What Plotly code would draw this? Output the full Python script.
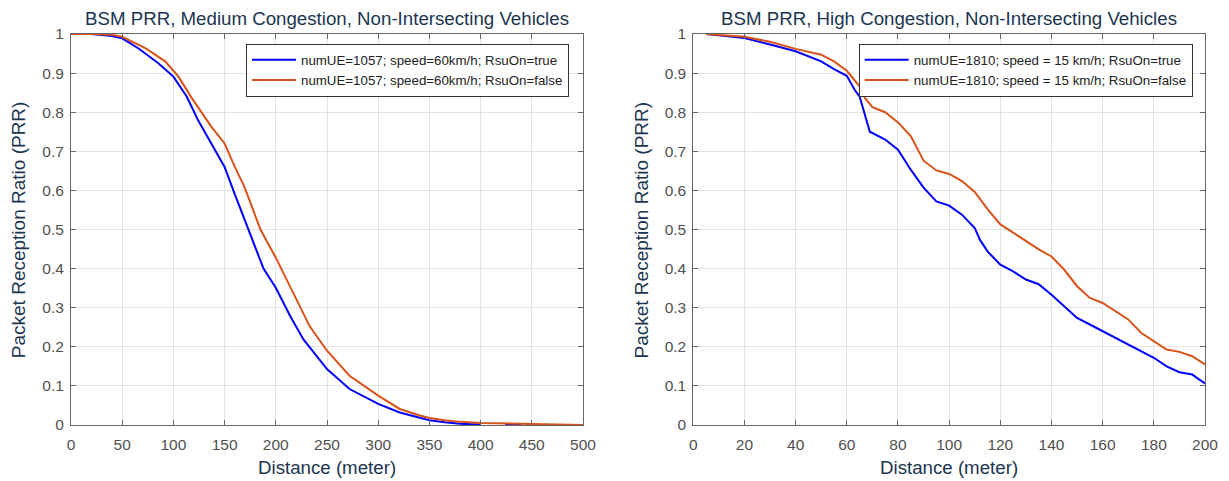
import plotly.graph_objects as go

# ---- Left panel: medium congestion ----
med_x_true = [0, 20, 40, 50, 66, 85, 100, 113, 124, 137, 150, 160, 173, 188, 200, 214, 227, 250, 272, 300,
              321, 340, 350, 365, 380, 400, None, 424, 440]
med_y_true = [1.0, 1.0, 0.995, 0.989, 0.963, 0.926, 0.891, 0.84, 0.78, 0.72, 0.66, 0.59, 0.5, 0.4, 0.351, 0.279, 0.219, 0.143, 0.092, 0.054,
              0.032, 0.018, 0.012, 0.007, 0.003, 0.001, None, 0.0, 0.0]

med_x_false = [0, 20, 40, 50, 73, 92, 105, 118, 137, 150, 160, 169, 174, 185, 200, 217, 233, 250, 272, 300,
               321, 340, 350, 365, 380, 400, 440, 460, 500]
med_y_false = [1.0, 1.0, 0.998, 0.993, 0.963, 0.93, 0.891, 0.836, 0.763, 0.72, 0.66, 0.611, 0.577, 0.5, 0.428, 0.338, 0.253, 0.19, 0.126, 0.075,
               0.041, 0.025, 0.018, 0.012, 0.008, 0.005, 0.003, 0.001, 0.0]

# ---- Right panel: high congestion ----
high_x_true = [5, 10, 20, 30, 40, 50, 55, 60, 63, 65, 67, 69, 75, 80, 85, 90, 95, 100, 105, 110, 112, 115,
               120, 125, 130, 135, 140, 145, 150, 155, 160, 165, 170, 175, 180, 185, 190, 195, 200]
high_y_true = [1.0, 0.997, 0.99, 0.973, 0.956, 0.93, 0.91, 0.893, 0.858, 0.84, 0.798, 0.75, 0.73, 0.704, 0.653, 0.607, 0.572, 0.561, 0.538, 0.504, 0.474, 0.444,
               0.41, 0.393, 0.372, 0.36, 0.333, 0.303, 0.274, 0.257, 0.24, 0.225, 0.206, 0.19, 0.172, 0.15, 0.135, 0.129, 0.106]

high_x_false = [5, 10, 20, 30, 40, 50, 55, 60, 65, 67, 70, 75, 80, 85, 90, 95, 100, 105, 110, 115, 120, 125,
                130, 135, 140, 145, 150, 155, 160, 165, 170, 175, 180, 185, 190, 195, 200]
high_y_false = [1.0, 0.998, 0.993, 0.98, 0.962, 0.947, 0.93, 0.906, 0.866, 0.837, 0.813, 0.8, 0.774, 0.739, 0.676, 0.651, 0.642, 0.624, 0.596, 0.552, 0.513, 0.492,
                0.47, 0.449, 0.431, 0.397, 0.355, 0.325, 0.312, 0.291, 0.27, 0.236, 0.214, 0.193, 0.187, 0.176, 0.155]

labels_med = ["numUE=1057; speed=60km/h; RsuOn=true", "numUE=1057; speed=60km/h; RsuOn=false"]
labels_high = ["numUE=1810; speed = 15 km/h; RsuOn=true", "numUE=1810; speed = 15 km/h; RsuOn=false"]
titles = ["BSM PRR, Medium Congestion, Non-Intersecting Vehicles", "BSM PRR, High Congestion, Non-Intersecting Vehicles"]
x_title = "Distance (meter)"
y_title = "Packet Reception Ratio (PRR)"
y_ticks = [i / 10 for i in range(11)]
y_ticktext = ["0"] + [f"{i/10:.1f}" for i in range(1, 10)] + ["1"]

BLUE = "#0000FF"
ORANGE = "#D95319"
FONT = "Liberation Sans, Arial, sans-serif"
NAVY = "#1B3550"
TICKCOL = "#505050"

fig = go.Figure()
fig.add_trace(go.Scatter(x=med_x_true, y=med_y_true, mode="lines", name=labels_med[0],
                         line=dict(color=BLUE, width=2), xaxis="x", yaxis="y", legend="legend"))
fig.add_trace(go.Scatter(x=med_x_false, y=med_y_false, mode="lines", name=labels_med[1],
                         line=dict(color=ORANGE, width=2), xaxis="x", yaxis="y", legend="legend"))
fig.add_trace(go.Scatter(x=high_x_true, y=high_y_true, mode="lines", name=labels_high[0],
                         line=dict(color=BLUE, width=2), xaxis="x2", yaxis="y2", legend="legend2"))
fig.add_trace(go.Scatter(x=high_x_false, y=high_y_false, mode="lines", name=labels_high[1],
                         line=dict(color=ORANGE, width=2), xaxis="x2", yaxis="y2", legend="legend2"))

W, H = 1229, 481
ML, MR, MT, MB = 71, 24, 34, 56
PW = W - ML - MR
PH = H - MT - MB
xdom1 = [0, 512 / PW]
xdom2 = [(693.3 - ML) / PW, 1]

axis_common = dict(showline=True, linecolor="#666666", linewidth=1, mirror="ticks",
                   ticks="inside", ticklen=5, tickcolor="#666666",
                   showgrid=True, gridcolor="#E3E3E3", gridwidth=1, zeroline=False, automargin=False,
                   tickfont=dict(family=FONT, size=15.5, color=TICKCOL))

def xax(dom, anchor, rng, step):
    return dict(domain=dom, anchor=anchor, range=rng, tickvals=list(range(rng[0], rng[1] + 1, step)),
                ticklabelstandoff=5, **axis_common)

def yax(anchor):
    return dict(domain=[0, 1], anchor=anchor, range=[0, 1], tickvals=y_ticks, ticktext=y_ticktext,
                ticklabelstandoff=3, **axis_common)

legend_common = dict(xanchor="right", yanchor="top", bgcolor="white",
                     bordercolor="#333333", borderwidth=1,
                     font=dict(family=FONT, size=13.3, color="#222222"),
                     tracegroupgap=0, itemwidth=44)

annots = []
for dom, title in [(xdom1, titles[0]), (xdom2, titles[1])]:
    cx = (dom[0] + dom[1]) / 2
    annots.append(dict(text=title, x=cx, y=1 + 15 / PH, xref="paper", yref="paper",
                       showarrow=False, xanchor="center", yanchor="middle",
                       font=dict(family=FONT, size=18.7, color=NAVY)))
    annots.append(dict(text=x_title, x=cx, y=-(467 - 425) / PH, xref="paper", yref="paper",
                       showarrow=False, xanchor="center", yanchor="middle",
                       font=dict(family=FONT, size=18.7, color=NAVY)))
    annots.append(dict(text=y_title, x=dom[0] - 52.3 / PW, y=0.5, xref="paper", yref="paper",
                       showarrow=False, xanchor="center", yanchor="middle", textangle=-90,
                       font=dict(family=FONT, size=19, color=NAVY)))

fig.update_layout(
    width=W, height=H,
    margin=dict(l=ML, r=MR, t=MT, b=MB, autoexpand=False),
    paper_bgcolor="white", plot_bgcolor="white",
    font=dict(family=FONT),
    xaxis=xax(xdom1, "y", [0, 500], 50),
    yaxis=yax("x"),
    xaxis2=xax(xdom2, "y2", [0, 200], 20),
    yaxis2=yax("x2"),
    legend=dict(x=(569 - ML) / PW, y=1 - 9.5 / PH, **legend_common),
    legend2=dict(x=(1192.7 - ML) / PW, y=1 - 9.5 / PH, **legend_common),
    showlegend=True,
    annotations=annots,
)

fig.write_html("out.html", config={"displayModeBar": False},
               post_script="document.body.style.margin='0px';document.body.style.overflow='hidden';")
